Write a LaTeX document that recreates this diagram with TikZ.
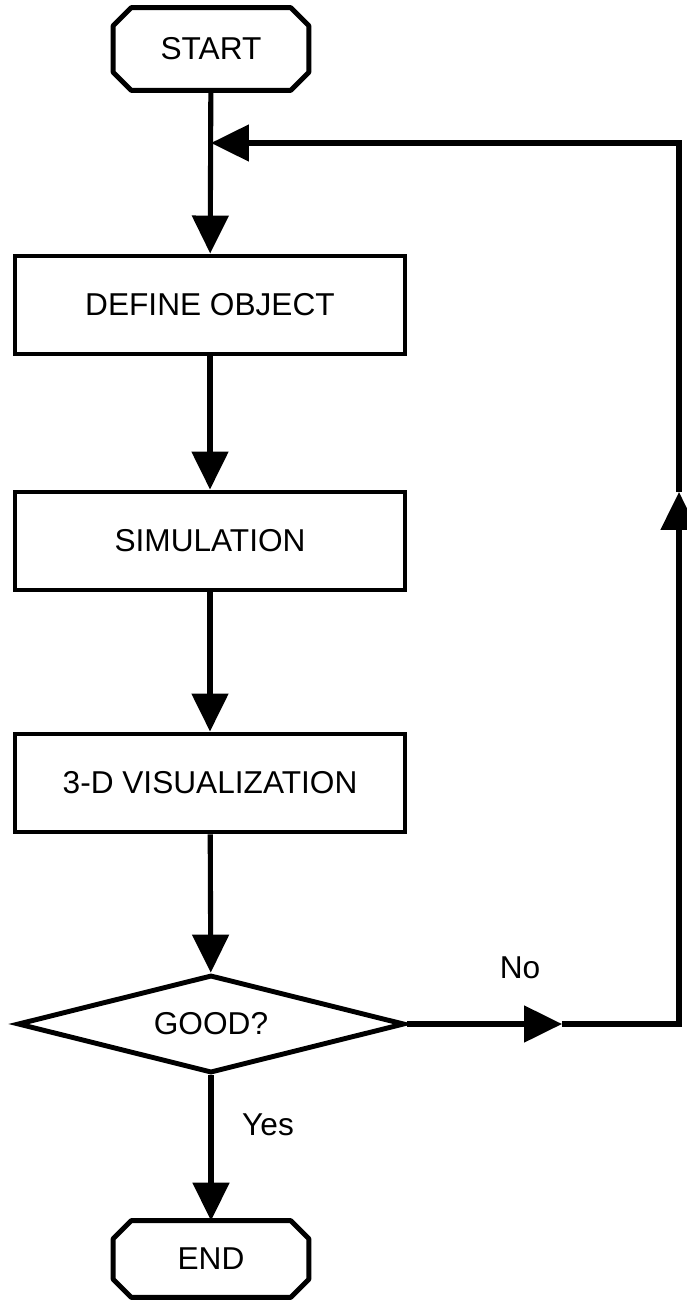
\documentclass[tikz,border=0pt]{standalone}
\usepackage{fontspec}
\setmainfont{Liberation Sans}
\usetikzlibrary{arrows.meta,shapes.geometric}
\tikzset{
  box/.style={draw,line width=2.8pt,fill=white,align=center,minimum width=7.8cm,minimum height=1.96cm,font=\fontsize{18}{21}\selectfont},
  term/.style={fill=white,minimum width=3.9cm,minimum height=1.64cm,font=\fontsize{18}{21}\selectfont},
  test/.style={draw,line width=2.8pt,fill=white,diamond,aspect=4,inner sep=0pt,minimum width=7.74cm,minimum height=1.96cm,font=\fontsize{18}{21}\selectfont},
  lab/.style={font=\fontsize{18}{21}\selectfont},
  arr/.style={-{Triangle[length=7.6mm,width=7.2mm]},line width=2.9pt},
  line/.style={line width=2.8pt,line join=round},
}

\begin{document}
\begin{tikzpicture}[x=0.02cm,y=-0.02cm]
  \useasboundingbox[fill=white] (0,0) rectangle (686,1300);
  \node[term] (start) at (211,49) {START};
  \node[box] (define) at (210,305) {DEFINE OBJECT};
  \node[box] (sim) at (210,541) {SIMULATION};
  \node[box] (vis) at (210,783) {3-D VISUALIZATION};
  \node[test] (good) at (211,1024) {GOOD?};
  \node[term,minimum height=1.52cm] (stop) at (211,1259) {END};
  \node[lab] (no) at (520,968) {No};
  \node[lab] (yes) at (268,1125) {Yes};
  % chamfered outline of the terminals
  \foreach \n in {start,stop}
    \draw[line] ([xshift=0.36cm]\n.north west) -- ([xshift=-0.36cm]\n.north east)
      -- ([yshift=-0.36cm]\n.north east) -- ([yshift=0.36cm]\n.south east)
      -- ([xshift=-0.36cm]\n.south east) -- ([xshift=0.36cm]\n.south west)
      -- ([yshift=0.36cm]\n.south west) -- ([yshift=-0.36cm]\n.north west) -- cycle;
  % loop back
  \coordinate (join) at (211,143);
  \coordinate (notip) at (562,1024);
  \coordinate (uptip) at (679,492);
  \draw[arr] (start) -- (define);
  \draw[arr] (define) -- (sim);
  \draw[arr] (sim) -- (vis);
  \draw[arr] (vis) -- (good);
  \draw[arr] (good) -- (stop);
  \draw[arr] (good.east) -- (notip);
  \draw[arr] (notip) -| (uptip);
  \draw[arr] (uptip) |- (join);
\end{tikzpicture}
\end{document}
